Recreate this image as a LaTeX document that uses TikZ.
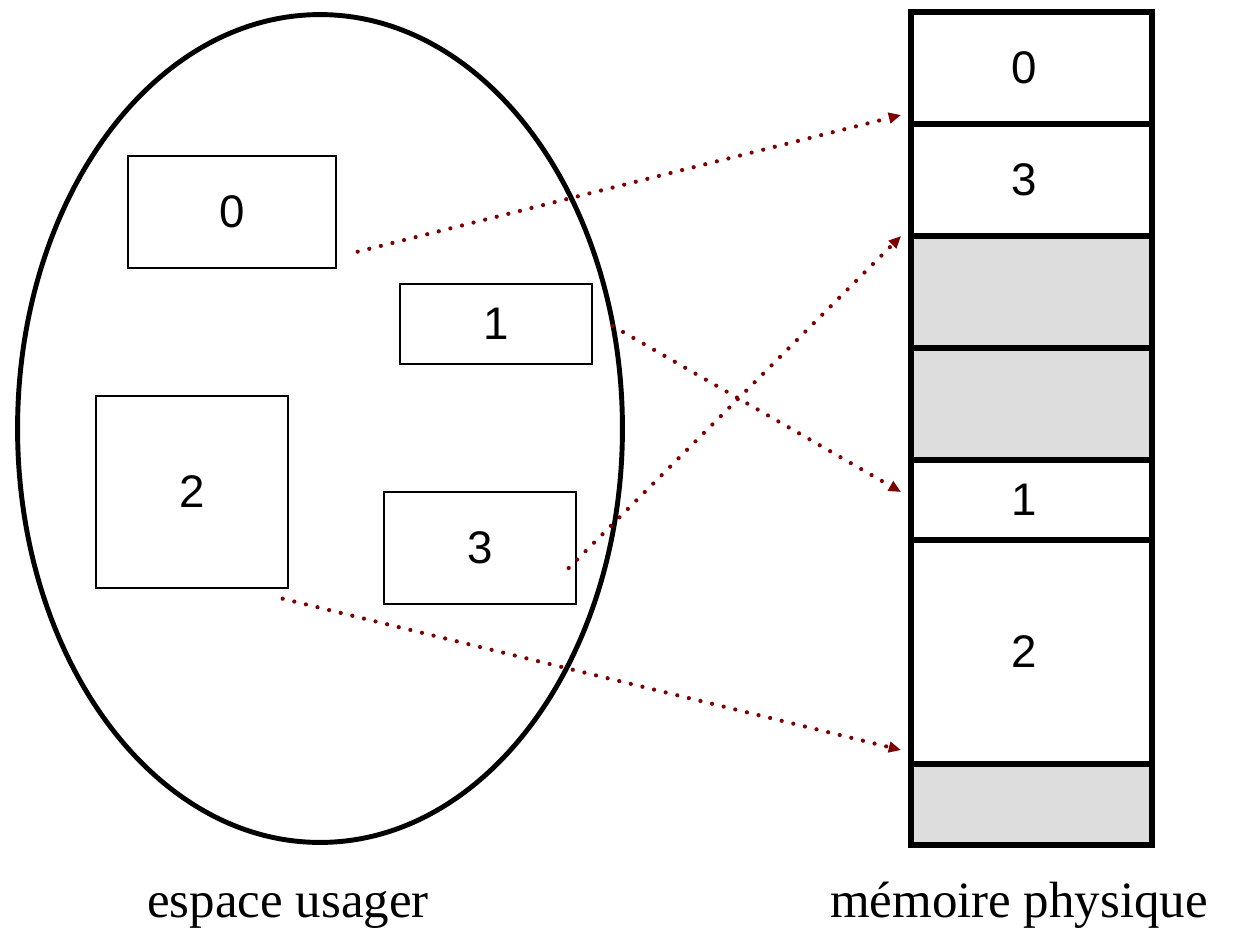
\documentclass[tikz,border=0pt]{standalone}
\usepackage{fontspec}
\setmainfont{Liberation Serif}
\newfontfamily\numfont{Liberation Sans}
\usepackage{xcolor}
\usetikzlibrary{shapes.geometric,arrows.meta,positioning}
\definecolor{linkred}{HTML}{7F0000}
\definecolor{freegray}{HTML}{DDDDDD}

\begin{document}
\begin{tikzpicture}[
	x=0.02cm, y=-0.02cm,
	digit/.style={font=\numfont\fontsize{26}{30}\selectfont},
	space/.style={ellipse, draw, line width=2.8pt, minimum width=12.1cm, minimum height=16.56cm, inner sep=0pt},
	segment/.style={rectangle, draw, line width=0.8pt, inner sep=0pt, digit},
	cell/.style={rectangle, draw, line width=3.4pt, minimum width=4.82cm, inner sep=0pt, outer sep=0pt},
	freecell/.style={cell, fill=freegray},
	celltext/.style={label={[digit, xshift=-0.14cm]center:#1}},
	link/.style={-{Triangle[length=7pt,width=6pt]}, linkred, line width=2.4pt, line cap=round, dash pattern=on 0pt off 6.8pt},
	caption/.style={anchor=base, font=\fontsize{29}{34}\selectfont}
	]
	\useasboundingbox (0,0) rectangle (1239,931);
	
	% User space
	\node[space] (espace) at (320,428.5) {};
	\node[segment, minimum width=4.16cm, minimum height=2.24cm] (b0) at (232,212) {0};
	\node[segment, minimum width=3.84cm, minimum height=1.6cm] (b1) at (496,324) {1};
	\node[segment, minimum width=3.84cm, minimum height=3.84cm] (b2) at (192,492) {2};
	\node[segment, minimum width=3.84cm, minimum height=2.24cm] (b3) at (480,548) {3};
	
	% Physical memory
	\node[cell, minimum height=2.24cm, celltext=0] (m0) at (1031.5,68) {};
	\node[cell, minimum height=2.24cm, celltext=3] (m3) at (1031.5,180) {};
	\node[freecell, minimum height=2.24cm] (f1) at (1031.5,292) {};
	\node[freecell, minimum height=2.24cm] (f2) at (1031.5,404) {};
	\node[cell, minimum height=1.6cm, celltext=1] (m1) at (1031.5,500) {};
	\node[cell, minimum height=4.48cm, celltext=2] (m2) at (1031.5,652) {};
	\node[freecell, minimum height=1.62cm] (f3) at (1031.5,804.5) {};
	
	% Mapping
	\draw[link] ([shift={(21,-17)}]b0.south east) -- ([shift={(-10,-9)}]m3.north west);
	\draw[link] ([shift={(20,2)}]b1.east) -- ([shift={(-10,32)}]m1.north west);
	\draw[link] ([shift={(-8,20)}]b3.east) -- ([shift={(-10,0)}]f1.north west);
	\draw[link] ([shift={(-6,10)}]b2.south east) -- ([shift={(-10,-14)}]f3.north west);
	
	% Captions
	\node[caption] (cap1) at (288,917) {espace usager};
	\node[caption] (cap2) at (1019,917) {mémoire physique};
	
\end{tikzpicture}
\end{document}
